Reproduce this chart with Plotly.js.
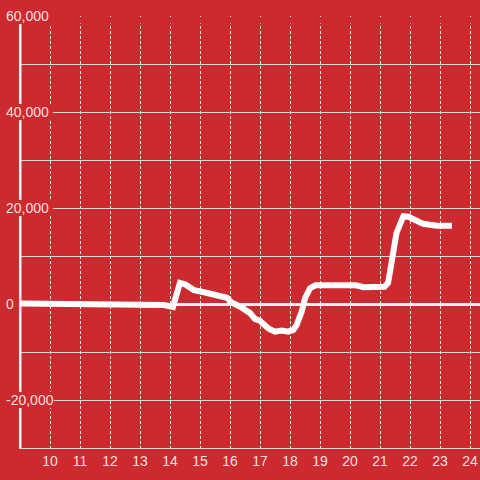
<!DOCTYPE html>
<html><head><meta charset="utf-8">
<script src="https://cdn.plot.ly/plotly-3.0.1.min.js"></script>
<style>html,body{margin:0;padding:0;background:#cc2a2f}#chart{width:480px;height:480px}</style>
</head><body><div id="chart"></div>
<script>
const hours = [9, 11.2, 11.3, 13.8, 14.1, 14.33, 14.5, 14.8, 15.1, 15.6, 15.9, 16.05, 16.33, 16.67, 16.83, 17.0, 17.28, 17.5, 17.72, 17.94, 18.11, 18.22, 18.39, 18.5, 18.67, 18.85, 20.2, 20.45, 21.0, 21.15, 21.27, 21.4, 21.55, 21.78, 21.94, 22.17, 22.44, 22.89, 23.4];
const values = [100, 100, -200, -200, -600, 4400, 4100, 2900, 2500, 1900, 1300, 300, -500, -1900, -3100, -3500, -5100, -5750, -5550, -5750, -5400, -4400, -1600, 1200, 3300, 3900, 3900, 3500, 3500, 3600, 4400, 10000, 14800, 18300, 18200, 17500, 16700, 16300, 16300];
const xTickVals = [10, 11, 12, 13, 14, 15, 16, 17, 18, 19, 20, 21, 22, 23, 24];
const yTickVals = [-20000, 0, 20000, 40000, 60000];
const yTickText = ['-20,000', '0', '20,000', '40,000', '60,000'];
const yMinorVals = [-30000, -20000, -10000, 0, 10000, 20000, 30000, 40000, 50000, 60000];

const BG = '#cc2a2f';
const LABEL = 'rgba(255,255,255,0.87)';

const shapes = [];
// y axis line (drawn between grid and traces so label backgrounds can break it)
shapes.push({type: 'line', layer: 'between', xref: 'x', yref: 'y', x0: 9, x1: 9, y0: -30000, y1: 60000,
  line: {color: '#f2f2f2', width: 3}});
// hide top few px of vertical grid under the top gridline
shapes.push({type: 'rect', layer: 'between', xref: 'x', yref: 'y', x0: 8.9, x1: 25,
  ysizemode: 'pixel', yanchor: 60000, y0: -7.5, y1: -1, fillcolor: BG, line: {width: 0}});
// label backgrounds
yTickVals.filter(v => v !== 0).forEach(v => {
  shapes.push({type: 'rect', layer: 'between', xref: 'x', yref: 'y', x0: 8.9, x1: v < 0 ? 10.13 : 10.1,
    ysizemode: 'pixel', yanchor: v, y0: -8, y1: 8, fillcolor: BG, line: {width: 0}});
});

const data = [{
  type: 'scatter', mode: 'lines', x: hours, y: values,
  line: {color: '#ffffff', width: 6}, hoverinfo: 'skip'
}];

const layout = {
  width: 480, height: 480,
  paper_bgcolor: BG, plot_bgcolor: BG,
  margin: {l: 19, r: 0, t: 16, b: 32, pad: 0},
  showlegend: false,
  font: {family: '"Liberation Sans", Arial, sans-serif', size: 14, color: LABEL},
  xaxis: {
    range: [9 - 1 / 30, 9 - 1 / 30 + 461 / 30],
    tickvals: xTickVals, ticktext: xTickVals.map(String),
    showgrid: true, gridcolor: 'rgba(255,255,255,0.9)', griddash: '3px,2px', gridwidth: 1,
    zeroline: false, showline: true, linecolor: '#d8d8d8', linewidth: 1,
    ticks: '', ticklabelstandoff: 0,
    tickfont: {size: 14, color: LABEL}, fixedrange: true
  },
  yaxis: {
    range: [-30000, 60000],
    tickvals: yTickVals, ticktext: yTickText,
    showgrid: true, gridcolor: '#d8d8d8', gridwidth: 1,
    minor: {tickvals: yMinorVals, showgrid: true, gridcolor: '#d8d8d8', gridwidth: 1, ticks: ''},
    zeroline: true, zerolinecolor: '#f2f2f2', zerolinewidth: 3,
    showline: false, ticks: '',
    ticklabelposition: 'inside', ticklabelstandoff: -16, ticklabeloverflow: 'allow',
    tickfont: {size: 14, color: LABEL}, fixedrange: true
  },
  shapes: shapes
};

Plotly.newPlot('chart', data, layout, {staticPlot: true, displayModeBar: false});
</script>
</body></html>
